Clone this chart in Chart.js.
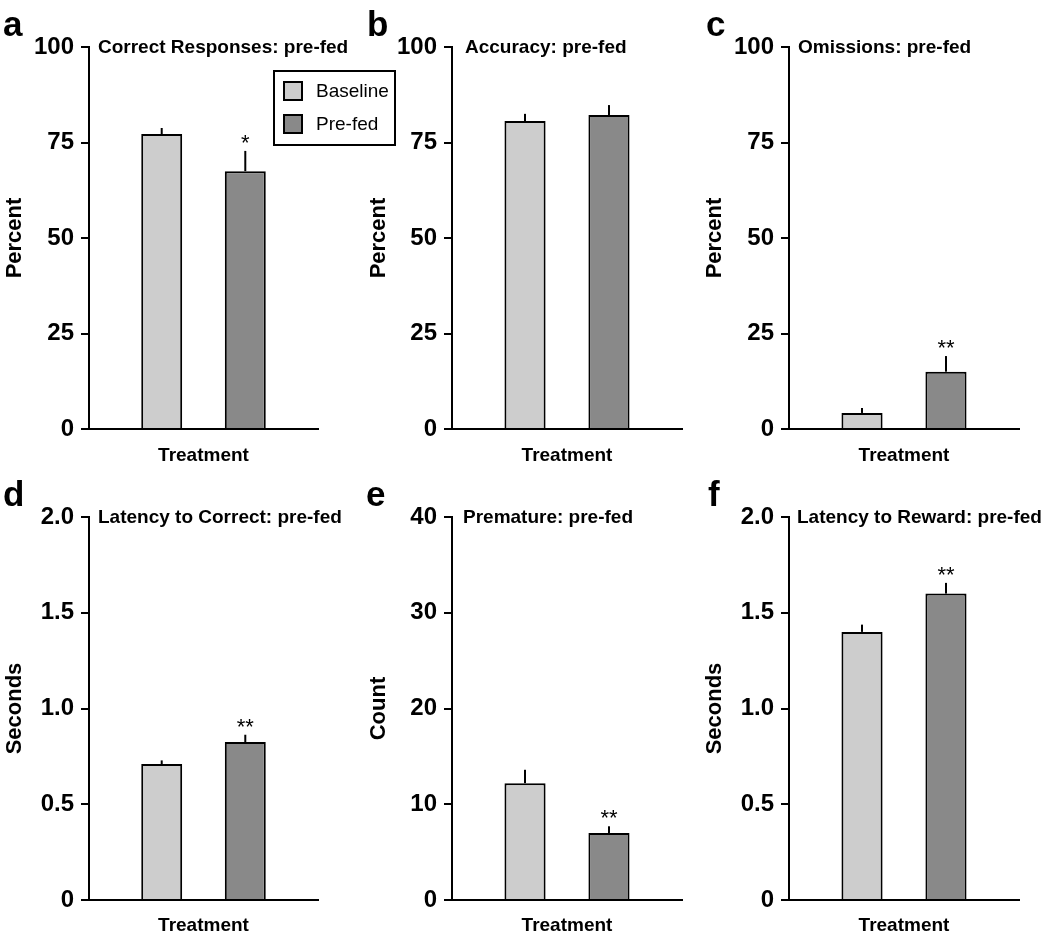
<!DOCTYPE html>
<html>
<head>
<meta charset="utf-8">
<script src="https://cdn.jsdelivr.net/npm/chart.js@4.4.0/dist/chart.umd.min.js"></script>
<style>
  body { margin: 0; background: #fff; }
  #fig { position: relative; width: 1050px; height: 942px; font-family: 'Liberation Sans', Arial, sans-serif; color: #000; }
  .panel { position: absolute; width: 350px; height: 470px; }
  .panel canvas { display: block; }
  .letter { position: absolute; font-weight: bold; font-size: 35px; line-height: 35px; }
  .legend { position: absolute; box-sizing: border-box; border: 2px solid #000; background: #fff; }
  .legend .sw { position: absolute; box-sizing: border-box; width: 20px; height: 20px; border: 2px solid #000; }
  .legend .lbl { position: absolute; font-size: 19px; line-height: 20px; white-space: nowrap; }
</style>
</head>
<body>
<div id="fig"></div>
<script>
// ---- data ----
const panelLetters = ['a', 'b', 'c', 'd', 'e', 'f'];
const panelTitles = [
  'Correct Responses: pre-fed',
  'Accuracy: pre-fed',
  'Omissions: pre-fed',
  'Latency to Correct: pre-fed',
  'Premature: pre-fed',
  'Latency to Reward: pre-fed'
];
const yAxisTitles = ['Percent', 'Percent', 'Percent', 'Seconds', 'Count', 'Seconds'];
const xAxisTitle = 'Treatment';
const seriesNames = ['Baseline', 'Pre-fed'];
const seriesColors = ['#cdcdcd', '#898989'];

const baselineMeans = [77.2, 80.6, 4.2, 0.71, 12.2, 1.40];
const baselineErr   = [1.6, 1.9, 1.3, 0.019, 1.4, 0.038];
const prefedMeans   = [67.5, 82.2, 15.0, 0.825, 7.0, 1.60];
const prefedErr     = [5.3, 2.6, 4.1, 0.038, 0.7, 0.056];
const prefedStars   = ['*', '', '**', '**', '**', '**'];

const yMax  = [100, 100, 100, 2, 40, 2];
const yStep = [25, 25, 25, 0.5, 10, 0.5];
const yDecimals = [0, 0, 0, 1, 0, 1];

// ---- layout of the six panels (pixels) ----
const panelLayout = [
  { left: 0,   top: 0,   axisX: 89,  right: 318, bottom: 429, titlePad: 2,  headX: 9,  letterX: 3 },
  { left: 350, top: 0,   axisX: 102, right: 332, bottom: 429, titlePad: 16, headX: 13, letterX: 17 },
  { left: 700, top: 0,   axisX: 89,  right: 319, bottom: 429, titlePad: 2,  headX: 9,  letterX: 6 },
  { left: 0,   top: 470, axisX: 89,  right: 318, bottom: 430, titlePad: 2,  headX: 9,  letterX: 3 },
  { left: 350, top: 470, axisX: 102, right: 332, bottom: 430, titlePad: 16, headX: 11, letterX: 16 },
  { left: 700, top: 470, axisX: 89,  right: 319, bottom: 430, titlePad: 2,  headX: 8,  letterX: 8 }
];
const PANEL_H = 470;
const AREA_TOP = 47;
const FONT = "'Liberation Sans', Arial, sans-serif";

Chart.defaults.font.family = FONT;
Chart.defaults.color = '#000';

/**
 * Draws error bars, significance stars and the panel heading
 */
const panelDecor = {
  id: 'panelDecor',
  afterDatasetsDraw(chart, args, opts) {
    const { ctx, chartArea } = chart;
    const y = chart.scales.y;
    ctx.save();
    opts.errors.forEach((err, di) => {
      const bar = chart.getDatasetMeta(di).data[0];
      const mean = chart.data.datasets[di].data[0];
      const yTop = y.getPixelForValue(mean + err);
      ctx.strokeStyle = '#000';
      ctx.lineWidth = 2;
      ctx.beginPath();
      ctx.moveTo(bar.x, bar.y);
      ctx.lineTo(bar.x, yTop);
      ctx.stroke();
      if (opts.stars[di]) {
        ctx.fillStyle = '#000';
        ctx.font = '22px ' + FONT;
        ctx.textAlign = 'center';
        ctx.textBaseline = 'alphabetic';
        ctx.fillText(opts.stars[di], bar.x, yTop - 1);
      }
    });
    ctx.fillStyle = '#000';
    ctx.font = 'bold 19px ' + FONT;
    ctx.textAlign = 'left';
    ctx.textBaseline = 'middle';
    ctx.fillText(opts.heading, chartArea.left + opts.headX, chartArea.top + 1);
    ctx.restore();
  }
};

const fig = document.getElementById('fig');

function createPanel(i) {
  const L = panelLayout[i];
  const wrap = document.createElement('div');
  wrap.className = 'panel';
  wrap.style.left = L.left + 'px';
  wrap.style.top = L.top + 'px';
  const canvas = document.createElement('canvas');
  canvas.width = 350;
  canvas.height = PANEL_H;
  wrap.appendChild(canvas);
  fig.appendChild(wrap);

  const letter = document.createElement('div');
  letter.className = 'letter';
  letter.textContent = panelLetters[i];
  letter.style.left = (L.left + L.letterX) + 'px';
  letter.style.top = (L.top + 6) + 'px';
  fig.appendChild(letter);

  const dec = yDecimals[i];

  return new Chart(canvas, {
    type: 'bar',
    data: {
      labels: [xAxisTitle],
      datasets: [{
        label: seriesNames[0],
        data: [baselineMeans[i]],
        backgroundColor: seriesColors[0],
        borderColor: '#000',
        borderWidth: 2
      }, {
        label: seriesNames[1],
        data: [prefedMeans[i]],
        backgroundColor: seriesColors[1],
        borderColor: '#000',
        borderWidth: 2
      }]
    },
    options: {
      responsive: false,
      animation: false,
      devicePixelRatio: 1,
      categoryPercentage: 0.73,
      barPercentage: 0.49,
      layout: {
        padding: { left: 0, top: AREA_TOP, right: 350 - L.right, bottom: 0 }
      },
      plugins: {
        legend: { display: false },
        tooltip: { enabled: false },
        title: { display: false },
        panelDecor: {
          errors: [baselineErr[i], prefedErr[i]],
          stars: ['', prefedStars[i]],
          heading: panelTitles[i],
          headX: L.headX
        }
      },
      scales: {
        x: {
          grid: { display: false },
          border: { display: true, color: '#000', width: 2 },
          ticks: { display: false },
          title: {
            display: true,
            text: xAxisTitle,
            color: '#000',
            font: { size: 19, weight: 'bold' },
            padding: { top: 0, bottom: 3 }
          },
          afterFit: s => { s.height = PANEL_H - L.bottom; }
        },
        y: {
          min: 0,
          max: yMax[i],
          ticks: {
            stepSize: yStep[i],
            color: '#000',
            padding: 7,
            font: { size: 24, weight: 'bold' },
            callback: v => (v === 0 ? '0' : Number(v).toFixed(dec))
          },
          grid: {
            drawOnChartArea: false,
            drawTicks: true,
            tickLength: 8,
            tickWidth: 2,
            color: '#000',
            lineWidth: 2
          },
          border: { display: true, color: '#000', width: 2 },
          title: {
            display: true,
            text: yAxisTitles[i],
            color: '#000',
            font: { size: 22, weight: 'bold' },
            padding: { top: L.titlePad, bottom: 0 }
          },
          afterFit: s => { s.width = L.axisX; }
        }
      }
    },
    plugins: [panelDecor]
  });
}

for (let i = 0; i < panelTitles.length; i++) {
  createPanel(i);
}

// Legend box of panel a
const legend = document.createElement('div');
legend.className = 'legend';
legend.style.left = '273px';
legend.style.top = '70px';
legend.style.width = '123px';
legend.style.height = '76px';
seriesNames.forEach((name, k) => {
  const sw = document.createElement('div');
  sw.className = 'sw';
  sw.style.background = seriesColors[k];
  sw.style.left = '8px';
  sw.style.top = (9 + k * 33) + 'px';
  const lbl = document.createElement('div');
  lbl.className = 'lbl';
  lbl.textContent = name;
  lbl.style.left = '41px';
  lbl.style.top = (9 + k * 33) + 'px';
  legend.appendChild(sw);
  legend.appendChild(lbl);
});
fig.appendChild(legend);
</script>
</body>
</html>
